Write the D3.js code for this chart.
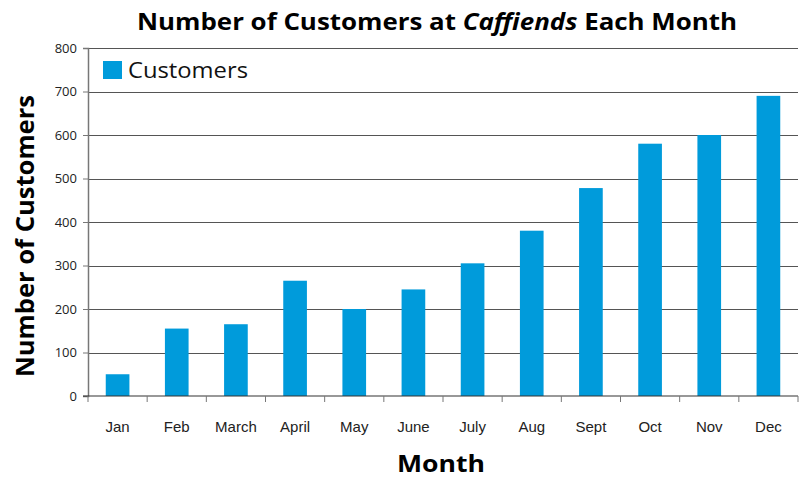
<!DOCTYPE html>
<html>
<head>
<meta charset="utf-8">
<script src="https://cdn.jsdelivr.net/npm/d3@7"></script>
<style>
  body { margin: 0; background: #fff; }
  svg { display: block; }
</style>
</head>
<body>
<div class="chart"></div>
<script>
const w = 803;
const h = 479;

// data
const months = ["Jan", "Feb", "March", "April", "May", "June", "July", "Aug", "Sept", "Oct", "Nov", "Dec"];
const customers = [50, 155, 165, 265, 200, 245, 305, 380, 478, 580, 600, 690];
const yTicks = [0, 100, 200, 300, 400, 500, 600, 700, 800];

const m = {left: 88, right: 5, top: 48, bottom: 83};

const svg = d3.select(".chart").append("svg")
    .attr("width", w)
    .attr("height", h);

const x = d3.scaleBand()
    .domain(months)
    .range([m.left, w - m.right])
    .paddingInner(0.6)
    .paddingOuter(0.3);

const y = d3.scaleLinear()
    .domain([0, 800])
    .range([h - m.bottom, m.top]);

//gridlines
svg.append("g")
    .selectAll("line")
    .data(yTicks.slice(1))
    .enter()
    .append("line")
    .attr("x1", m.left)
    .attr("x2", w - m.right)
    .attr("y1", d => Math.round(y(d)) + 0.5)
    .attr("y2", d => Math.round(y(d)) + 0.5)
    .attr("stroke", "#555")
    .attr("stroke-width", 1.2);

//bars
svg.append("g")
    .selectAll("rect")
    .data(customers)
    .enter()
    .append("rect")
    .attr("x", (d, i) => x(months[i]))
    .attr("width", x.bandwidth())
    .attr("y", d => y(d))
    .attr("height", d => y(0) - y(d))
    .attr("fill", "#009bdb");

//y axis
const yAxis = svg.append("g")
    .attr("transform", `translate(${m.left},0)`)
    .call(d3.axisLeft(y).tickValues(yTicks).tickSize(5).tickPadding(6));
yAxis.select(".domain").attr("stroke", "#777").attr("stroke-width", 1.5);
yAxis.selectAll(".tick line").attr("stroke", "#777");
yAxis.selectAll("text")
    .attr("font-family", "'Open Sans', sans-serif")
    .attr("font-size", 13)
    .attr("fill", "#222");

//x axis, ticks sit between the bands
const xAxis = svg.append("g")
    .attr("transform", `translate(0,${y(0)})`);
xAxis.append("line")
    .attr("x1", m.left - 5)
    .attr("x2", w - m.right)
    .attr("stroke", "#333")
    .attr("stroke-width", 1.2);
xAxis.selectAll(".sep")
    .data(d3.range(months.length + 1))
    .enter()
    .append("line")
    .attr("class", "sep")
    .attr("x1", i => m.left + i * (w - m.left - m.right) / months.length)
    .attr("x2", i => m.left + i * (w - m.left - m.right) / months.length)
    .attr("y1", 0)
    .attr("y2", 6)
    .attr("stroke", "#777");
xAxis.selectAll("text")
    .data(months)
    .enter()
    .append("text")
    .attr("x", d => x(d) + x.bandwidth() / 2)
    .attr("y", 36)
    .attr("text-anchor", "middle")
    .attr("font-family", "'Liberation Sans', Arial, sans-serif")
    .attr("font-size", 15)
    .attr("fill", "#222")
    .text(d => d);

//title
const title = svg.append("text")
    .attr("x", 437)
    .attr("y", 30)
    .attr("text-anchor", "middle")
    .attr("font-family", "'Open Sans', sans-serif")
    .attr("font-weight", "bold")
    .attr("font-size", 23)
    .attr("textLength", 600)
    .attr("lengthAdjust", "spacingAndGlyphs");
title.append("tspan").text("Number of Customers at ");
title.append("tspan").attr("font-style", "italic").text("Caffiends");
title.append("tspan").text(" Each Month");

//axis titles
svg.append("text")
    .attr("transform", "translate(34,236) rotate(-90)")
    .attr("text-anchor", "middle")
    .attr("font-family", "'Open Sans', sans-serif")
    .attr("font-weight", "bold")
    .attr("font-size", 25)
    .attr("textLength", 282)
    .attr("lengthAdjust", "spacingAndGlyphs")
    .text("Number of Customers");

svg.append("text")
    .attr("x", 441)
    .attr("y", 472)
    .attr("text-anchor", "middle")
    .attr("font-family", "'Open Sans', sans-serif")
    .attr("font-weight", "bold")
    .attr("font-size", 24)
    .attr("textLength", 88)
    .attr("lengthAdjust", "spacingAndGlyphs")
    .text("Month");

//legend
const legend = svg.append("g").attr("transform", "translate(103,61)");
legend.append("rect")
    .attr("width", 19)
    .attr("height", 18)
    .attr("fill", "#009bdb");
legend.append("text")
    .attr("x", 25)
    .attr("y", 17)
    .attr("font-family", "'Open Sans', sans-serif")
    .attr("font-size", 22)
    .attr("textLength", 120)
    .attr("lengthAdjust", "spacingAndGlyphs")
    .attr("fill", "#111")
    .text("Customers");
</script>
</body>
</html>
